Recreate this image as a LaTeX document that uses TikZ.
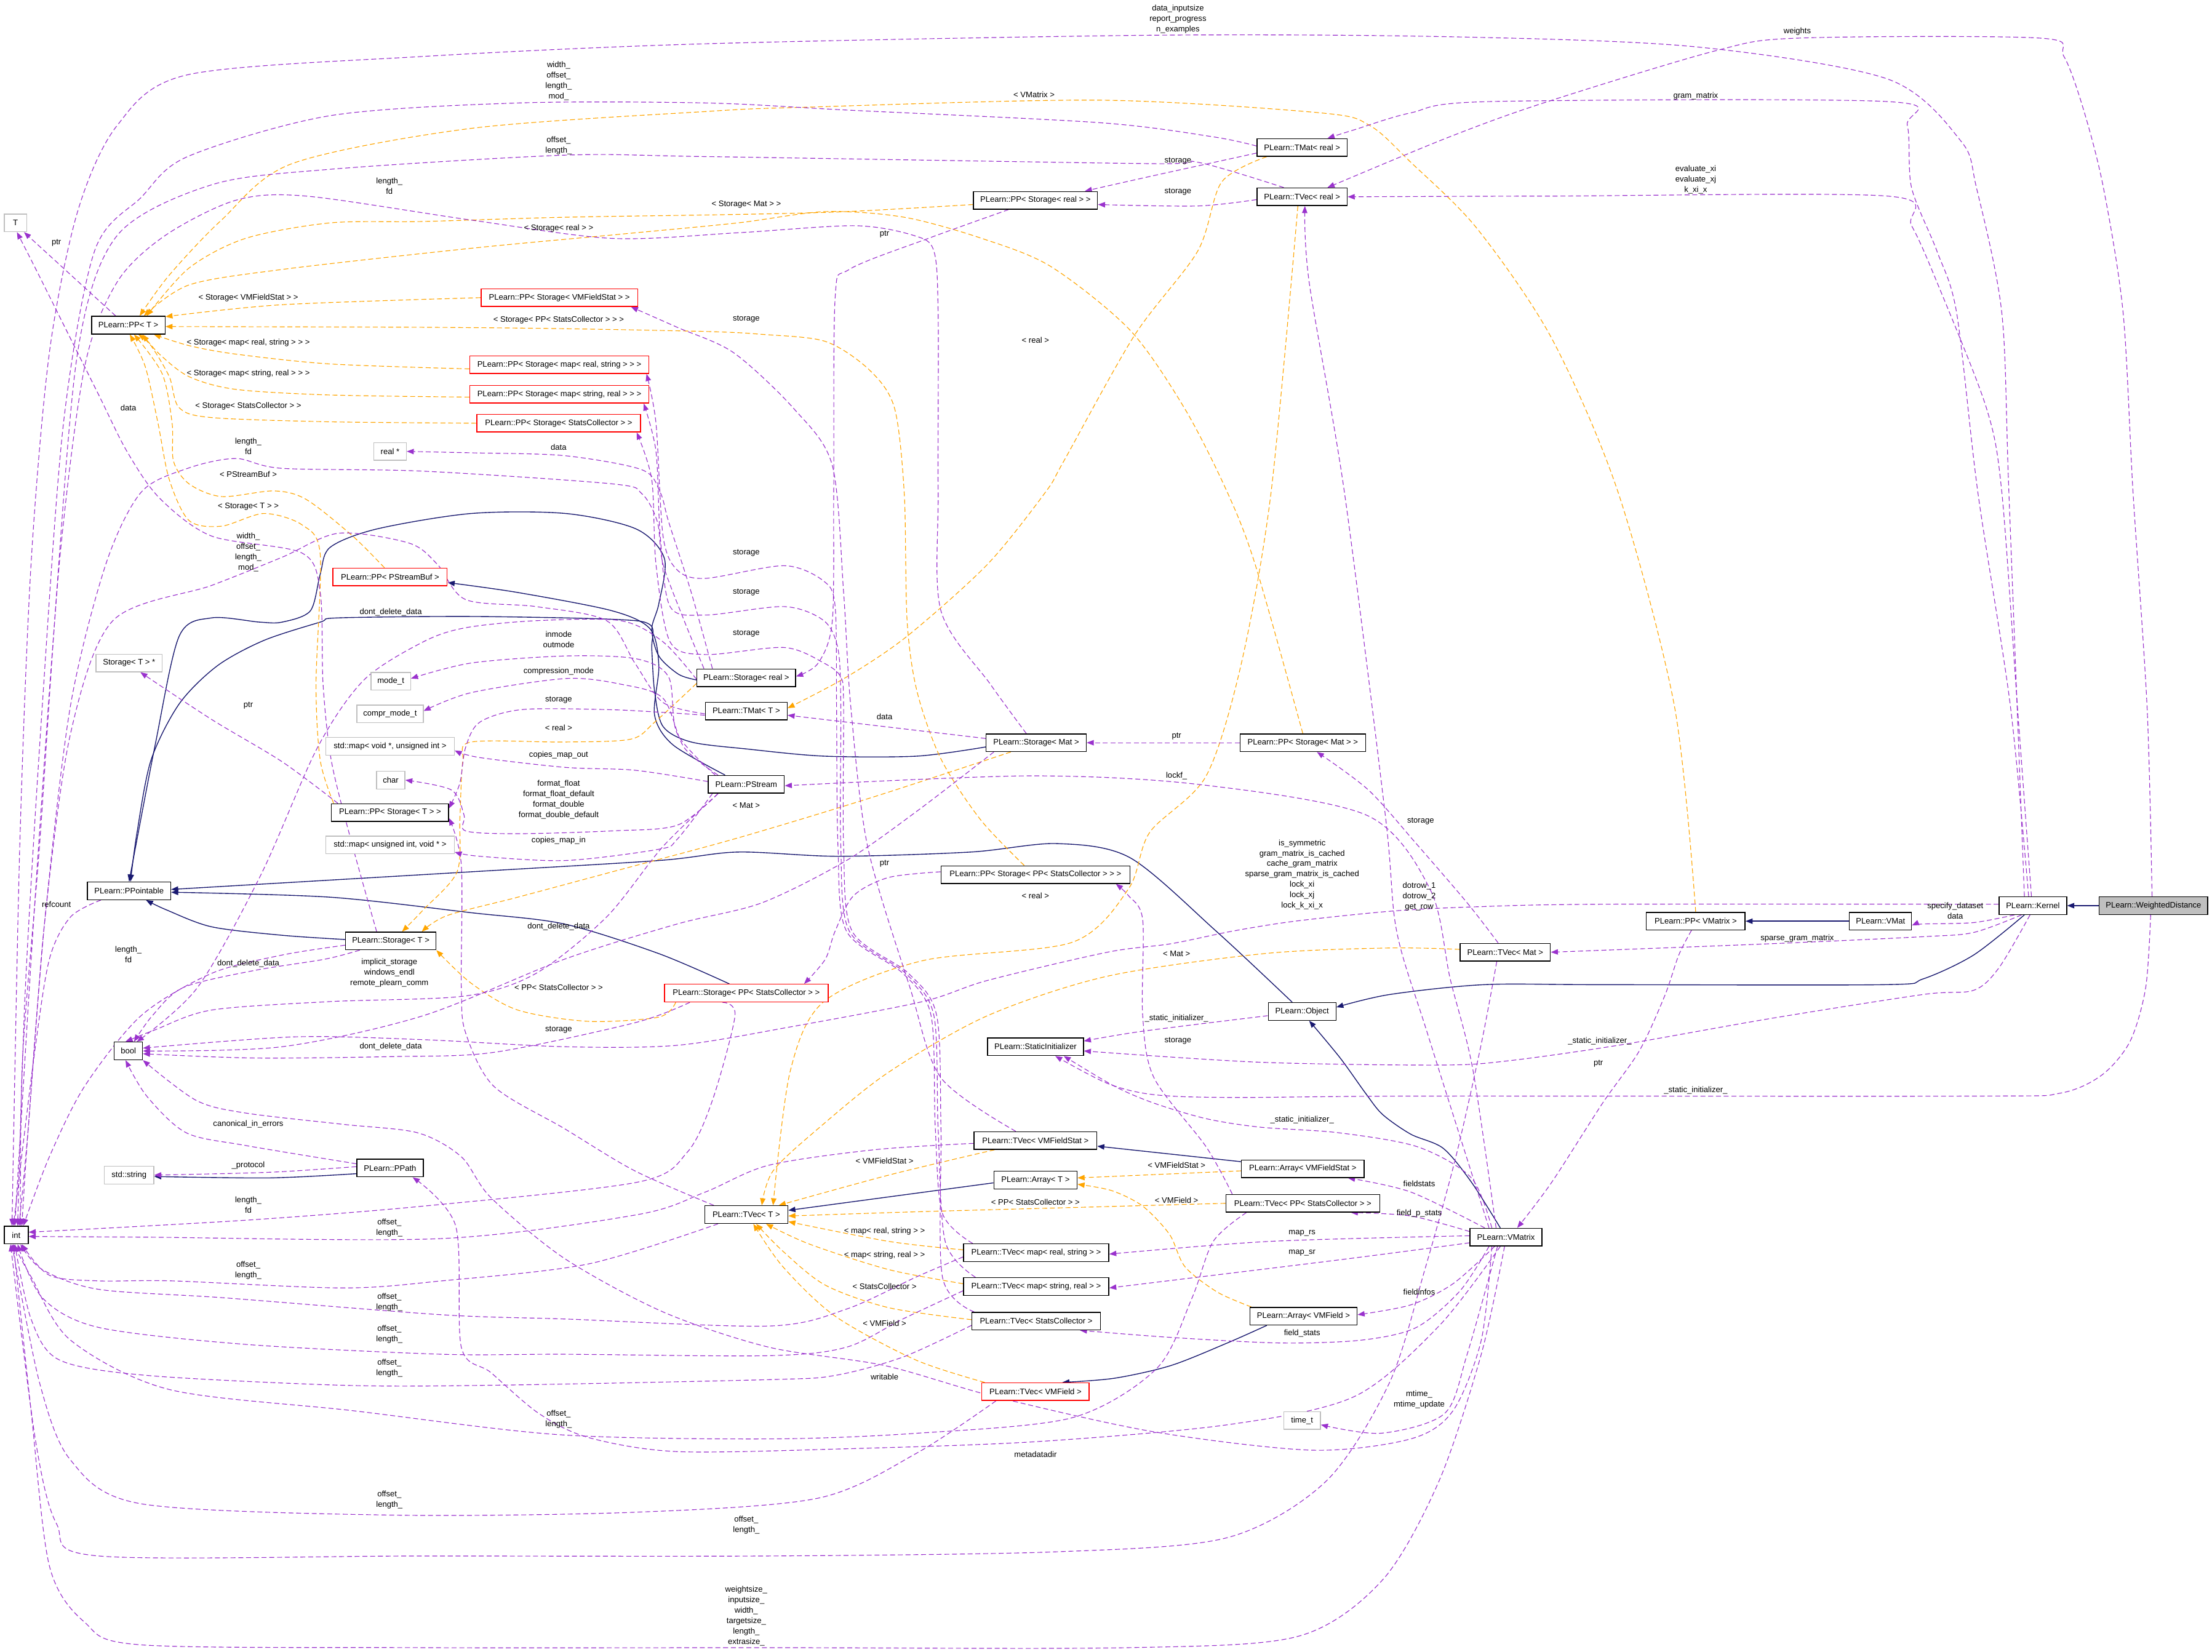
\documentclass[tikz,border=0pt]{standalone}
\usepackage{fontspec}
\setmainfont{Liberation Sans}
\usetikzlibrary{arrows.meta}
\definecolor{pur}{HTML}{9A32CD}
\definecolor{org}{HTML}{FFA500}
\definecolor{mid}{HTML}{191970}
\definecolor{gry}{HTML}{BFBFBF}
\pgfdeclarelayer{edges}
\pgfsetlayers{edges,main}
\begin{document}
\begin{tikzpicture}[x=1pt,y=-1pt,
  cls/.style={draw=black,line width=0.6pt,fill=white,minimum height=12.5pt,inner sep=0pt,font=\fontsize{5.7}{6.5}\selectfont},
  ext/.style={cls,draw=gry},
  redc/.style={cls,draw=red},
  lb/.style={font=\fontsize{5.7}{7.4}\selectfont,align=center,inner sep=0pt},
  mem/.style={draw=pur,line width=0.5pt,dash pattern=on 3.5pt off 2pt,-{Triangle[length=5pt,width=3.8pt]}},
  tpl/.style={draw=org,line width=0.5pt,dash pattern=on 3.5pt off 2pt,-{Triangle[length=5pt,width=3.8pt]}},
  inh/.style={draw=mid,line width=0.6pt,-{Triangle[length=5pt,width=3.8pt]}}]
\useasboundingbox (0,0) rectangle (1568,1171);
% ---------------- nodes ----------------
\node[cls,fill=gry,minimum width=77pt] (wd) at (1526.5,642) {PLearn::WeightedDistance};
\node[cls,minimum width=48pt] (kernel) at (1441,642) {PLearn::Kernel};
\node[cls,minimum width=44pt] (vmat) at (1333,653) {PLearn::VMat};
\node[cls,minimum width=70pt] (ppvmatrix) at (1202,653) {PLearn::PP< VMatrix >};
\node[cls,minimum width=64pt] (tvecmat) at (1067,675) {PLearn::TVec< Mat >};
\node[cls,minimum width=48pt] (object) at (923,717) {PLearn::Object};
\node[cls,minimum width=68pt] (staticinit) at (734,742) {PLearn::StaticInitializer};
\node[cls,minimum width=87pt] (tvecvmfs) at (734,808.5) {PLearn::TVec< VMFieldStat >};
\node[cls,minimum width=59pt] (arrayT) at (734,836.5) {PLearn::Array< T >};
\node[cls,minimum width=59pt] (tvecT) at (529,861) {PLearn::TVec< T >};
\node[cls,minimum width=87pt] (arrvmfs) at (923.5,828.5) {PLearn::Array< VMFieldStat >};
\node[cls,minimum width=109pt] (tvecppsc) at (923.5,853) {PLearn::TVec< PP< StatsCollector > >};
\node[cls,minimum width=103pt] (tvecmrs) at (734.5,888) {PLearn::TVec< map< real, string > >};
\node[cls,minimum width=103pt] (tvecmsr) at (734.5,912) {PLearn::TVec< map< string, real > >};
\node[cls,minimum width=91pt] (tvecsc) at (734.5,936.5) {PLearn::TVec< StatsCollector >};
\node[cls,minimum width=76pt] (arrvmf) at (924,933) {PLearn::Array< VMField >};
\node[redc,minimum width=76pt] (tvecvmf) at (734,986.5) {PLearn::TVec< VMField >};
\node[ext,minimum width=26pt] (timet) at (923,1007) {time\_t};
\node[cls,minimum width=51pt] (vmatrix) at (1067.5,877) {PLearn::VMatrix};
\node[redc,minimum width=81pt] (pppsb) at (276.5,409) {PLearn::PP< PStreamBuf >};
\node[ext,minimum width=47pt] (storageTp) at (91.5,470) {Storage< T > *};
\node[ext,minimum width=28pt] (modet) at (277,483) {mode\_t};
\node[ext,minimum width=47pt] (comprmodet) at (276.5,506) {compr\_mode\_t};
\node[ext,minimum width=91pt] (mapvoid) at (276.5,529) {std::map< void *, unsigned int >};
\node[ext,minimum width=20pt] (charn) at (277,553) {char};
\node[cls,minimum width=83pt] (ppstT) at (276.5,576) {PLearn::PP< Storage< T > >};
\node[ext,minimum width=91pt] (mapuint) at (276.5,599) {std::map< unsigned int, void * >};
\node[cls,minimum width=59pt] (ppointable) at (91.5,631.5) {PLearn::PPointable};
\node[cls,minimum width=64pt] (storageT) at (277,667) {PLearn::Storage< T >};
\node[redc,minimum width=116pt] (storppsc) at (529,704) {PLearn::Storage< PP< StatsCollector > >};
\node[cls,minimum width=70pt] (storreal) at (529,480.5) {PLearn::Storage< real >};
\node[cls,minimum width=58pt] (tmatT) at (529,504) {PLearn::TMat< T >};
\node[cls,minimum width=54pt] (pstream) at (529,556) {PLearn::PStream};
\node[cls,minimum width=71pt] (stormat) at (734.5,526.5) {PLearn::Storage< Mat >};
\node[cls,minimum width=89pt] (ppstmat) at (923.5,526.5) {PLearn::PP< Storage< Mat > >};
\node[cls,minimum width=134pt] (ppstppsc) at (734,620) {PLearn::PP< Storage< PP< StatsCollector > > >};
\node[ext,minimum width=16pt] (Tn) at (11,158) {T};
\node[cls,minimum width=52pt] (ppT) at (91,230.5) {PLearn::PP< T >};
\node[redc,minimum width=111pt] (ppstvmfs) at (396.5,211) {PLearn::PP< Storage< VMFieldStat > >};
\node[redc,minimum width=127pt] (ppstmrs) at (396.5,258.5) {PLearn::PP< Storage< map< real, string > > >};
\node[redc,minimum width=127pt] (ppstmsr) at (396.5,279.5) {PLearn::PP< Storage< map< string, real > > >};
\node[redc,minimum width=116pt] (ppstsc) at (396,300) {PLearn::PP< Storage< StatsCollector > >};
\node[ext,minimum width=23pt] (realp) at (276.5,320) {real *};
\node[cls,minimum width=64pt] (tmatreal) at (923,104.5) {PLearn::TMat< real >};
\node[cls,minimum width=64pt] (tvecreal) at (923,139.5) {PLearn::TVec< real >};
\node[cls,minimum width=88pt] (ppstreal) at (734,142) {PLearn::PP< Storage< real > >};
\node[cls,minimum width=20pt] (booln) at (91,745) {bool};
\node[ext,minimum width=35pt] (stdstring) at (91.5,833) {std::string};
\node[cls,minimum width=47pt] (ppath) at (276.5,828) {PLearn::PPath};
\node[cls,minimum width=17pt] (intn) at (11.5,875.5) {int};
% ---------------- edges ----------------
\begin{pgfonlayer}{edges}
\fill[white] (0,0) rectangle (1568,1171);
% inheritance
\draw[inh] (wd.west) -- (kernel.east);
\draw[inh] plot[smooth] coordinates {([xshift=-6pt]kernel.south) (1399,677) (1363,694) (1335,698) (1134,698) (1052,698) (985,705) ([yshift=3pt]object.east)};
\draw[inh] (vmat.west) -- (ppvmatrix.east);
\draw[inh] plot[smooth] coordinates {([xshift=-7pt]object.north) (862,660) (801,608) (749,598) (688,604) (594,607) (523,604) (467,610) (334,618) ([yshift=1pt]ppointable.east)};
\draw[inh] plot[smooth] coordinates {([yshift=1pt]storageT.west) (200,663) (150,657) (118,645) ([xshift=12pt]ppointable.south)};
\draw[inh] plot[smooth] coordinates {([xshift=-12pt]storppsc.north) (467,676) (400,655) (334,647) (234,636) ([yshift=-1pt]ppointable.east)};
\draw[inh] plot[smooth] coordinates {([yshift=-1.5pt]storreal.west) (481,478) (467,465) (462,446) (467,428) (471,396) (451,375) (401,364) (334,364) (267,375) (234,388) (227,407) (220,433) (200,441) (184,441) (150,438) (127,451) (110,528) (ppointable.north)};
\draw[inh] plot[smooth] coordinates {([yshift=-3pt]stormat.west) (650,536) (584,536) (530,531) (490,526) (470,515) (464,490) (462,460) (461,443) (434,439) (334,437) (240,438) (227,441) (187,454) (154,472) (127,499) (107,539) (97,591) ([xshift=1pt]ppointable.north)};
\draw[inh] plot[smooth] coordinates {([xshift=-15pt]pstream.north) (477,528) (464,507) (467,472) (461,446) (434,433) (367,420) ([yshift=-4pt]pppsb.east)};
\draw[inh] plot[smooth] coordinates {([xshift=-4pt]vmatrix.north) (1043,838) (1023,814) (1000,804) (980,790) (968,775) (950,750) ([xshift=5pt]object.south)};
\draw[inh] ([yshift=5pt]arrvmfs.west) -- ([yshift=-4pt]tvecvmfs.east);
\draw[inh] ([yshift=-2pt]arrayT.west) -- ([yshift=3pt]tvecT.east);
\draw[inh] plot[smooth] coordinates {([xshift=-26pt]arrvmf.south) (870,952) (830,968) (790,977) ([xshift=19pt]tvecvmf.north)};
\draw[inh] plot[smooth] coordinates {([yshift=-4pt]ppath.west) (191,835) ([yshift=-1pt]stdstring.east)};
% template instances
\draw[tpl] plot[smooth] coordinates {(ppstvmfs.west) (200,216) ([yshift=6pt]ppT.east)};
\draw[tpl] plot[smooth] coordinates {([xshift=-8pt]ppstppsc.north) (695,581) (667,538) (650,490) (643,440) (641,350) (634,289) (616,262) (585,242) (540,237) (501,235) (400,233) (300,232) ([yshift=-1pt]ppT.east)};
\draw[tpl] plot[smooth] coordinates {([yshift=-3pt]ppstmrs.west) (234,258) (167,251) (134,245) ([xshift=18pt]ppT.south)};
\draw[tpl] plot[smooth] coordinates {([yshift=-2pt]ppstmsr.west) (234,280) (167,276) (134,267) (113,251) ([xshift=10pt]ppT.south)};
\draw[tpl] plot[smooth] coordinates {(ppstsc.west) (234,299) (150,296) (127,289) (120,267) (107,245) ([xshift=7pt]ppT.south)};
\draw[tpl] plot[smooth] coordinates {([yshift=-3pt]ppstreal.west) (600,150) (523,152) (400,154) (300,157) (234,158) (174,169) (134,190) ([xshift=13pt]ppT.north)};
\draw[tpl] plot[smooth] coordinates {(ppstmat.north) (890,401) (870,349) (840,290) (801,234) (745,189) (696,169) (641,154) (585,150) (523,158) (440,166) (334,176) (200,191) (134,202) ([xshift=11pt]ppT.north)};
\draw[tpl] plot[smooth] coordinates {(ppvmatrix.north) (1187,501) (1147,349) (1100,240) (1047,162) (1000,115) (971,89) (936,80) (780,71) (571,76) (501,79) (334,91) (207,116) (157,156) (120,195) ([xshift=8pt]ppT.north)};
\draw[tpl] plot[smooth] coordinates {([xshift=-4pt]pppsb.north) (250,380) (217,354) (194,348) (157,352) (134,343) (123,327) (122,300) (115,265) ([xshift=4pt]ppT.south)};
\draw[tpl] plot[smooth] coordinates {([xshift=-40pt]ppstT.north) (227,539) (224,485) (227,393) (214,372) (187,364) (157,373) (134,369) (120,340) (112,300) (103,260) ([xshift=1pt]ppT.south)};
\draw[tpl] plot[smooth] coordinates {([xshift=-25pt]tmatreal.south) (866,129) (849,178) (804,238) (754,327) (741,349) (700,400) (643,451) (600,480) ([yshift=2pt]tmatT.east)};
\draw[tpl] plot[smooth] coordinates {([yshift=-4pt]storreal.west) (464,512) (447,524) (400,526) (334,526) (328,540) (326,580) (324,618) (300,645) ([xshift=8pt]storageT.north)};
\draw[tpl] plot[smooth] coordinates {([xshift=-18pt]stormat.south) (619,565) (523,594) (434,618) (367,636) (317,649) ([xshift=22pt]storageT.north)};
\draw[tpl] plot[smooth] coordinates {([xshift=-50pt]storppsc.south) (467,721) (417,724) (367,716) (334,697) (storageT.south east)};
\draw[tpl] plot[smooth] coordinates {([xshift=-3pt]tvecreal.south) (901,349) (880,470) (855,550) (815,590) (800,630) (760,668) (654,681) (584,710) (560,760) ([xshift=19pt]tvecT.north)};
\draw[tpl] plot[smooth] coordinates {([yshift=2pt]tvecmat.west) (985,672) (896,676) (785,692) (700,720) (630,760) (580,800) (548,830) ([xshift=11pt]tvecT.north)};
\draw[tpl] plot[smooth] coordinates {([xshift=-29pt]tvecvmfs.south) (630,833) ([xshift=23pt]tvecT.north)};
\draw[tpl] plot[smooth] coordinates {(tvecppsc.west) (760,856) (650,859) ([yshift=-1pt]tvecT.east)};
\draw[tpl] plot[smooth] coordinates {([yshift=2pt]tvecmrs.west) (630,880) ([yshift=-5pt]tvecT.east)};
\draw[tpl] plot[smooth] coordinates {([yshift=2pt]tvecmsr.west) (630,900) (574,882) ([xshift=14pt]tvecT.south)};
\draw[tpl] plot[smooth] coordinates {([yshift=1pt]tvecsc.west) (630,927) (585,911) (555,887) ([xshift=7pt]tvecT.south)};
\draw[tpl] plot[smooth] coordinates {([xshift=-36pt]tvecvmf.north) (649,964) (592,933) (555,898) ([xshift=5pt]tvecT.south)};
\draw[tpl] ([yshift=-1.5pt]arrvmfs.west) -- ([yshift=1.5pt]arrayT.east);
\draw[tpl] plot[smooth] coordinates {([xshift=-37pt]arrvmf.north) (863,916) (840,898) (829,875) (810,855) (788,844) ([yshift=-3pt]arrayT.east)};
% members
\draw[mem] plot[smooth] coordinates {([xshift=-6pt]kernel.north) (1424,349) (1419,222) (1401,133) (1390,100) (1338,56) (1200,33) (1025,26) (814,25) (501,31) (300,40) (133,53) (83,89) (55,150) (35,250) (22,400) (14,600) ([xshift=-3pt]intn.north)};
\draw[mem] plot[smooth] coordinates {([xshift=-1pt]wd.north) (1522,502) (1512,349) (1505,222) (1491,133) (1477,78) (1463,40) (1446,27) (1275,27) (1216,36) (1094,73) (1025,98) ([xshift=18pt]tvecreal.north)};
\draw[mem] plot[smooth] coordinates {([xshift=-3pt]kernel.north) (1425,500) (1402,349) (1387,222) (1373,178) (1355,133) (1352,89) (1338,72) (1056,72) (1000,80) (960,92) ([xshift=18pt]tmatreal.north)};
\draw[mem] plot[smooth] coordinates {([xshift=-1pt]kernel.north) (1430,500) (1419,349) (1408,289) (1373,200) (1355,160) (1338,139) (1100,139) (tvecreal.east)};
\draw[mem] plot[smooth] coordinates {([xshift=-13pt]kernel.south) (1399,654) (1363,655) ([yshift=-3pt]vmat.east)};
\draw[mem] plot[smooth] coordinates {([xshift=-8pt]kernel.south) (1399,661) (1363,664) (1255,669) (tvecmat.east)};
\draw[mem] plot[smooth] coordinates {([xshift=-2pt]kernel.south) (1417,686) (1399,702) (1363,705) (1255,722) (1147,741) (1069,752) (1021,755) (893,753) ([yshift=-3pt]staticinit.east)};
\draw[mem] plot[smooth] coordinates {([yshift=1pt]kernel.west) (1134,641) (1041,643) (985,646) (918,653) (874,660) (830,669) (785,675) (700,695) (654,710) (560,728) (480,741) (400,742) (300,737) (209,735) ([yshift=2pt]booln.east)};
\draw[mem] plot[smooth] coordinates {([xshift=-2pt]wd.south) (1521,700) (1510,738) (1490,762) (1460,775) (1400,777) (1003,777) (874,778) (818,776) (785,768) ([xshift=14pt]staticinit.south)};
\draw[mem] plot[smooth] coordinates {([xshift=-10pt]vmatrix.north) (1043,835) (1005,813) (949,803) (893,799) (855,793) (818,782) (790,770) ([xshift=20pt]staticinit.south)};
\draw[mem] plot[smooth] coordinates {([yshift=-3pt]object.west) (810,731) ([yshift=4pt]staticinit.east)};
\draw[mem] plot[smooth] coordinates {([xshift=-50pt]tvecppsc.north) (855,813) (818,764) (810,720) (810,652) (800,635) ([xshift=57pt]ppstppsc.south)};
\draw[mem] (ppstmat.west) -- (stormat.east);
\draw[mem] plot[smooth] coordinates {([xshift=-5pt]tvecmat.north) (1040,640) (1003,597) (970,560) ([xshift=10pt]ppstmat.south)};
\draw[mem] ([yshift=3pt]stormat.west) -- ([yshift=-3pt]tmatT.east);
\draw[mem] plot[smooth] coordinates {([yshift=2pt]ppstppsc.west) (630,622) (605,635) (592,660) (585,680) ([xshift=41pt]storppsc.north)};
\draw[mem] plot[smooth] coordinates {([xshift=-19pt]ppstreal.south) (658,169) (602,191) (592,211) (591,349) (590,440) (580,470) ([yshift=1pt]storreal.east)};
\draw[mem] plot[smooth] coordinates {([yshift=-2pt]tvecreal.west) (849,146) ([yshift=-3pt]ppstreal.east)};
\draw[mem] plot[smooth] coordinates {([yshift=-4pt]tmatreal.west) (820,124) ([xshift=35pt]ppstreal.north)};
\draw[mem] plot[smooth] coordinates {([xshift=-13pt]tvecreal.north) (849,115) (814,116) (501,111) (400,110) (234,120) (150,131) (83,167) (55,250) (38,450) (24,650) ([xshift=-1pt]intn.north)};
\draw[mem] plot[smooth] coordinates {([yshift=1pt]tmatreal.west) (860,97) (780,87) (600,78) (501,73) (367,73) (234,82) (133,111) (100,140) (67,178) (45,300) (30,500) (18,700) ([xshift=1pt]intn.north)};
\draw[mem] plot[smooth] coordinates {([xshift=-7pt]stormat.north) (702,485) (667,433) (665,349) (665,222) (662,178) (648,167) (606,160) (523,165) (434,169) (334,156) (217,139) (167,142) (117,167) (83,200) (60,260) (42,400) (28,600) (16,750) ([xshift=3pt]intn.north)};
\draw[mem] plot[smooth] coordinates {([xshift=-30pt]storreal.north) (485,440) (470,400) (466,370) (455,350) (434,343) (300,334) (200,332) (167,325) (133,332) (100,349) (75,400) (50,500) (32,650) (20,800) ([xshift=4pt]intn.north)};
\draw[mem] plot[smooth] coordinates {([xshift=-24pt]storreal.north) (490,420) (474,370) (468,349) (455,333) (400,323) (334,321) (realp.east)};
\draw[mem] ([xshift=-9pt]ppT.north) -- ([xshift=6pt]Tn.south);
\draw[mem] plot[smooth] coordinates {([xshift=-10pt]storageT.north) (250,600) (235,540) (229,485) (227,420) (214,392) (150,380) (113,353) (90,320) (70,280) (45,230) (25,190) ([xshift=1pt]Tn.south)};
\draw[mem] plot[smooth] coordinates {([yshift=-2pt]tmatT.west) (470,498) (450,470) (430,440) (380,430) (330,425) (310,400) (290,385) (240,378) (200,395) (150,415) (80,440) (50,520) (32,650) (20,800) ([xshift=2pt]intn.north)};
\draw[mem] plot[smooth] coordinates {([xshift=-20pt]ppointable.south) (50,650) (35,680) (24,750) ([xshift=-2pt]intn.north)};
\draw[mem] plot[smooth] coordinates {([yshift=-3pt]storageT.west) (200,677) (150,690) (100,720) (60,770) (35,820) ([xshift=5pt]intn.north)};
\draw[mem] plot[smooth] coordinates {([xshift=-22pt]storageT.south) (230,680) (180,688) (130,700) (108,720) ([xshift=4pt]booln.north)};
\draw[mem] plot[smooth] coordinates {([yshift=-1pt]storreal.west) (470,455) (440,440) (380,440) (330,445) (300,455) (258,482) (225,530) (185,620) (140,700) ([xshift=6pt]booln.north)};
\draw[mem] plot[smooth] coordinates {([xshift=-30pt]stormat.south) (650,575) (600,610) (540,640) (480,655) (400,680) (300,720) (200,742) (booln.east)};
\draw[mem] plot[smooth] coordinates {([xshift=-40pt]storppsc.south) (450,725) (350,746) (277,749) (180,750) ([yshift=-2pt]booln.east)};
\draw[mem] plot[smooth] coordinates {([xshift=-20pt]pstream.south) (470,600) (430,650) (380,690) (330,706) (234,710) (150,716) (110,730) ([xshift=-2pt]booln.north)};
\draw[mem] plot[smooth] coordinates {([yshift=3pt]ppath.west) (174,812) (132,803) (104,777) ([xshift=-2pt]booln.south)};
\draw[mem] plot[smooth] coordinates {([yshift=1pt]ppath.west) (191,831) (stdstring.east)};
\draw[mem] plot[smooth] coordinates {([xshift=-4pt]vmatrix.south) (1020,940) (960,990) (870,1010) (734,1022) (600,1027) (480,1029) (417,1019) (382,1002) (348,973) (327,955) (323,869) ([xshift=16pt]ppath.south)};
\draw[mem] plot[smooth] coordinates {([xshift=-10pt]vmatrix.south) (1050,950) (1030,1000) (1000,1020) (930,1028) (818,1015) (705,990) (627,968) (545,955) (470,930) (400,892) (348,849) (327,820) (296,803) (243,797) (174,789) (139,780) (booln.south east)};
\draw[mem] plot[smooth] coordinates {([xshift=-1pt]vmatrix.south) (1050,960) (1020,1050) (980,1120) (920,1160) (800,1168) (545,1168) (300,1168) (100,1166) (60,1150) (35,1110) (22,1000) ([xshift=-2pt]intn.south)};
\draw[mem] plot[smooth] coordinates {([xshift=-6pt]vmatrix.south) (1040,960) (1024,1002) (979,1016) ([yshift=-3pt]timet.east)};
\draw[mem] plot[smooth] coordinates {([yshift=1pt]vmatrix.west) (900,880) ([yshift=-1pt]tvecmrs.east)};
\draw[mem] plot[smooth] coordinates {([yshift=-4pt]vmatrix.west) (950,893) ([yshift=-1pt]tvecmsr.east)};
\draw[mem] plot[smooth] coordinates {([xshift=-15pt]vmatrix.north) (1000,845) ([xshift=32pt]arrvmfs.south)};
\draw[mem] plot[smooth] coordinates {([yshift=4pt]vmatrix.west) (1000,862) ([xshift=34pt]tvecppsc.south)};
\draw[mem] plot[smooth] coordinates {([xshift=-8pt]vmatrix.south) (1030,910) (1000,925) ([yshift=1pt]arrvmf.east)};
\draw[mem] plot[smooth] coordinates {([xshift=-12pt]vmatrix.south) (1035,915) (1004,941) (965,950) (907,952) (829,948) ([xshift=31pt]tvecsc.south)};
\draw[mem] plot[smooth] coordinates {([xshift=-3pt]ppvmatrix.south) (1190,677) (1180,706) (1162,745) (1136,782) (1100,838) ([xshift=8pt]vmatrix.north)};
\draw[mem] plot[smooth] coordinates {([xshift=-7pt]vmatrix.north) (1044,758) (1028,694) (1014,631) (969,578) (849,556) (729,550) ([yshift=-1pt]pstream.east)};
\draw[mem] plot[smooth] coordinates {([xshift=-12pt]vmatrix.north) (1012,733) (990,660) (982,578) (953,349) (928,200) ([xshift=2pt]tvecreal.south)};
\draw[mem] plot[smooth] coordinates {([xshift=-14pt]tvecvmfs.north) (667,764) (645,700) (615,600) (603,500) (598,420) (590,330) (563,290) (520,250) (480,232) ([xshift=-5pt]ppstvmfs.south east)};
\draw[mem] plot[smooth] coordinates {([xshift=-45pt]tvecmrs.north) (668,860) (663,800) (660,720) (640,690) (600,660) (594,600) (593,500) (592,430) (584,412) (556,401) (500,410) (480,404) (470,380) (465,300) ([xshift=-2pt]ppstmrs.south east)};
\draw[mem] plot[smooth] coordinates {([xshift=-43pt]tvecmsr.north) (670,880) (665,800) (662,720) (642,690) (602,660) (596,600) (596,500) (594,460) (584,440) (556,430) (500,436) (475,430) (468,380) (465,320) ([xshift=-4pt]ppstmsr.south east)};
\draw[mem] plot[smooth] coordinates {([xshift=-44pt]tvecsc.north) (668,905) (667,800) (664,720) (644,690) (604,660) (598,600) (598,500) (596,480) (584,470) (556,459) (500,464) (475,455) (465,400) (462,340) ([xshift=-3pt]ppstsc.south east)};
\draw[mem] plot[smooth] coordinates {([yshift=-3pt]tmatT.west) (470,505) (430,503) (370,503) (340,512) (330,530) (326,555) ([yshift=3pt]ppstT.east)};
\draw[mem] plot[smooth] coordinates {([xshift=-23pt]tvecT.north) (450,830) (400,800) (350,770) (330,732) (327,700) (327,613) ([yshift=-4pt]ppstT.east)};
\draw[mem] plot[smooth] coordinates {([xshift=-37pt]ppstT.north) (200,540) (150,510) ([xshift=8pt]storageTp.south)};
\draw[mem] plot[smooth] coordinates {([xshift=-22pt]pstream.north) (480,520) (474,480) (451,467) (401,465) (334,470) ([yshift=2pt]modet.east)};
\draw[mem] plot[smooth] coordinates {([xshift=-20pt]pstream.north) (485,530) (470,495) (440,485) (401,481) (334,491) ([yshift=2pt]comprmodet.east)};
\draw[mem] plot[smooth] coordinates {([yshift=2pt]pstream.west) (450,546) (401,544) (340,537) ([yshift=-3pt]mapvoid.east)};
\draw[mem] plot[smooth] coordinates {([xshift=-20pt]pstream.south) (480,585) (434,589) (367,591) (330,589) (329,578) (320,560) (charn.east)};
\draw[mem] plot[smooth] coordinates {([xshift=-24pt]pstream.south) (480,595) (467,602) (401,610) (340,607) ([yshift=-5pt]mapuint.east)};
\draw[mem] plot[smooth] coordinates {([xshift=-17pt]storppsc.south) (521,720) (505,780) (487,817) (452,838) (300,855) (174,865) ([yshift=2pt]intn.east)};
\draw[mem] plot[smooth] coordinates {([xshift=-20pt]tvecT.south) (417,896) (313,908) (243,913) (122,908) (70,908) (35,904) ([xshift=4pt]intn.south)};
\draw[mem] plot[smooth] coordinates {([yshift=-2pt]tvecvmfs.west) (620,815) (545,826) (500,845) (452,861) (313,878) (104,877) ([yshift=-1pt]intn.east)};
\draw[mem] plot[smooth] coordinates {([yshift=-3pt]tvecmrs.west) (650,905) (600,928) (545,940) (400,935) (313,932) (159,920) (70,914) (30,900) ([xshift=3pt]intn.south)};
\draw[mem] plot[smooth] coordinates {([yshift=-3pt]tvecmsr.west) (640,935) (600,955) (545,961) (400,960) (313,960) (174,953) (70,941) (30,920) ([xshift=1pt]intn.south)};
\draw[mem] plot[smooth] coordinates {([yshift=-3pt]tvecsc.west) (640,962) (592,975) (545,978) (348,982) (243,982) (104,975) (42,964) (22,935) ([xshift=-1pt]intn.south)};
\draw[mem] plot[smooth] coordinates {([xshift=-40pt]tvecppsc.south) (860,880) (845,920) (820,970) (760,1005) (650,1016) (545,1020) (396,1017) (250,1000) (120,985) (50,950) (22,905) ([xshift=-2pt]intn.south)};
\draw[mem] plot[smooth] coordinates {([xshift=-28pt]tvecvmf.south) (650,1030) (580,1062) (450,1072) (276,1074) (100,1066) (50,1035) (28,980) ([xshift=-3pt]intn.south)};
\draw[mem] plot[smooth] coordinates {([xshift=-6pt]tvecmat.south) (1050,740) (1032,820) (1010,900) (985,980) (940,1050) (870,1090) (750,1100) (545,1103) (300,1103) (70,1103) (40,1080) (25,1020) ([xshift=-4pt]intn.south)};
\end{pgfonlayer}
% ---------------- labels ----------------
\node[lb] (l1) at (835,13.4) {data\_inputsize\\report\_progress\\n\_examples};
\node[lb] (l2) at (1274,22.5) {weights};
\node[lb] (l3) at (1202,68) {gram\_matrix};
\node[lb] (l4) at (1202,127.5) {evaluate\_xi\\evaluate\_xj\\k\_xi\_x};
\node[lb] (l5) at (733,67) {< VMatrix >};
\node[lb] (l6) at (396,57.5) {width\_\\offset\_\\length\_\\mod\_};
\node[lb] (l7) at (396,103) {offset\_\\length\_};
\node[lb] (l8) at (276,132) {length\_\\fd};
\node[lb] (l9) at (835,114) {storage};
\node[lb] (l10) at (835,136) {storage};
\node[lb] (l11) at (529,145) {< Storage< Mat > >};
\node[lb] (l12) at (396,162) {< Storage< real > >};
\node[lb] (l13) at (627,166) {ptr};
\node[lb] (l14) at (40,172) {ptr};
\node[lb] (l15) at (734,241) {< real >};
\node[lb] (l16) at (176,211) {< Storage< VMFieldStat > >};
\node[lb] (l17) at (396,227) {< Storage< PP< StatsCollector > > >};
\node[lb] (l18) at (529,226) {storage};
\node[lb] (l19) at (176,243) {< Storage< map< real, string > > >};
\node[lb] (l20) at (176,265) {< Storage< map< string, real > > >};
\node[lb] (l21) at (176,288) {< Storage< StatsCollector > >};
\node[lb] (l22) at (91,289) {data};
\node[lb] (l23) at (396,317) {data};
\node[lb] (l24) at (176,316.5) {length\_\\fd};
\node[lb] (l25) at (176,336) {< PStreamBuf >};
\node[lb] (l26) at (176,359) {< Storage< T > >};
\node[lb] (l27) at (176,391.5) {width\_\\offset\_\\length\_\\mod\_};
\node[lb] (l28) at (529,392) {storage};
\node[lb] (l29) at (529,420) {storage};
\node[lb] (l30) at (529,449) {storage};
\node[lb] (l31) at (277,434) {dont\_delete\_data};
\node[lb] (l32) at (396,453.5) {inmode\\outmode};
\node[lb] (l33) at (396,476) {compression\_mode};
\node[lb] (l34) at (396,496) {storage};
\node[lb] (l35) at (176,500) {ptr};
\node[lb] (l36) at (627,508) {data};
\node[lb] (l37) at (396,516) {< real >};
\node[lb] (l38) at (834,522) {ptr};
\node[lb] (l39) at (396,535) {copies\_map\_out};
\node[lb] (l40) at (834,550) {lockf\_};
\node[lb] (l41) at (396,567) {format\_float\\format\_float\_default\\format\_double\\format\_double\_default};
\node[lb] (l42) at (529,571) {< Mat >};
\node[lb] (l43) at (1007,582) {storage};
\node[lb] (l44) at (396,596) {copies\_map\_in};
\node[lb] (l45) at (627,612) {ptr};
\node[lb] (l46) at (923,620) {is\_symmetric\\gram\_matrix\_is\_cached\\cache\_gram\_matrix\\sparse\_gram\_matrix\_is\_cached\\lock\_xi\\lock\_xj\\lock\_k\_xi\_x};
\node[lb] (l47) at (1006,635.5) {dotrow\_1\\dotrow\_2\\get\_row};
\node[lb] (l48) at (734,635) {< real >};
\node[lb] (l49) at (1386,645.5) {specify\_dataset\\data};
\node[lb] (l50) at (40,641) {refcount};
\node[lb] (l51) at (396,657) {dont\_delete\_data};
\node[lb] (l52) at (1274,665) {sparse\_gram\_matrix};
\node[lb] (l53) at (834,676) {< Mat >};
\node[lb] (l54) at (91,676.5) {length\_\\fd};
\node[lb] (l55) at (176,683) {dont\_delete\_data};
\node[lb] (l56) at (276,689.5) {implicit\_storage\\windows\_endl\\remote\_plearn\_comm};
\node[lb] (l57) at (396,700) {< PP< StatsCollector > >};
\node[lb] (l58) at (834,722) {\_static\_initializer\_};
\node[lb] (l59) at (396,730) {storage};
\node[lb] (l60) at (835,738) {storage};
\node[lb] (l61) at (1134,738) {\_static\_initializer\_};
\node[lb] (l62) at (277,742) {dont\_delete\_data};
\node[lb] (l63) at (1133,754) {ptr};
\node[lb] (l64) at (1202,773) {\_static\_initializer\_};
\node[lb] (l65) at (923,794) {\_static\_initializer\_};
\node[lb] (l66) at (176,797) {canonical\_in\_errors};
\node[lb] (l67) at (627,823) {< VMFieldStat >};
\node[lb] (l68) at (834,826) {< VMFieldStat >};
\node[lb] (l69) at (176,826) {\_protocol};
\node[lb] (l70) at (1006,839) {fieldstats};
\node[lb] (l71) at (734,852) {< PP< StatsCollector > >};
\node[lb] (l72) at (834,851) {< VMField >};
\node[lb] (l73) at (176,854) {length\_\\fd};
\node[lb] (l74) at (1006,860) {field\_p\_stats};
\node[lb] (l75) at (276,870.5) {offset\_\\length\_};
\node[lb] (l76) at (627,873) {< map< real, string > >};
\node[lb] (l77) at (923,874) {map\_rs};
\node[lb] (l78) at (923,888) {map\_sr};
\node[lb] (l79) at (627,890) {< map< string, real > >};
\node[lb] (l80) at (176,900.5) {offset\_\\length\_};
\node[lb] (l81) at (1006,916) {fieldinfos};
\node[lb] (l82) at (627,912) {< StatsCollector >};
\node[lb] (l83) at (276,923) {offset\_\\length\_};
\node[lb] (l84) at (627,938) {< VMField >};
\node[lb] (l85) at (923,945) {field\_stats};
\node[lb] (l86) at (276,946) {offset\_\\length\_};
\node[lb] (l87) at (276,970) {offset\_\\length\_};
\node[lb] (l88) at (627,976) {writable};
\node[lb] (l89) at (1006,992) {mtime\_\\mtime\_update};
\node[lb] (l90) at (396,1006) {offset\_\\length\_};
\node[lb] (l91) at (734,1031) {metadatadir};
\node[lb] (l92) at (276,1063) {offset\_\\length\_};
\node[lb] (l93) at (529,1081) {offset\_\\length\_};
\node[lb] (l94) at (529,1145.5) {weightsize\_\\inputsize\_\\width\_\\targetsize\_\\length\_\\extrasize\_};
\end{tikzpicture}
\end{document}
